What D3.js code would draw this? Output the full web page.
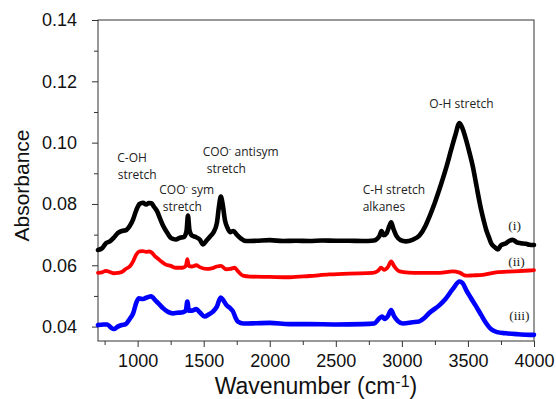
<!DOCTYPE html>
<html>
<head>
<meta charset="utf-8">
<title>FTIR spectra</title>
<script src="https://cdnjs.cloudflare.com/ajax/libs/d3/7.8.5/d3.min.js"></script>
<style>
    body { margin: 0; background: white; }
    .tick text { font-family: "Liberation Sans", Arial, sans-serif; font-size: 18px; fill: #111; }
    .axis path, .axis line { stroke: #333; }
    .axis-title { font-family: "Liberation Sans", Arial, sans-serif; fill: #111; }
    .note { font-family: "Open Sans", "Noto Sans", sans-serif; font-size: 12px; fill: #222; }
    .tag { font-family: "Liberation Serif", "Times New Roman", serif; font-size: 13.5px; fill: #222; }
</style>
</head>
<body>
<div id="chart"></div>
<script>
    // spectra: [wavenumber, absorbance]
    const spectrumI = [
        [700, 0.0650], [730, 0.0655], [760, 0.0672], [790, 0.0678], [820, 0.0690], [850, 0.0705],
        [880, 0.0712], [910, 0.0714], [940, 0.0728], [965, 0.0749], [990, 0.0780], [1015, 0.0800],
        [1040, 0.0804], [1065, 0.0798], [1085, 0.0803], [1105, 0.0802], [1125, 0.0790], [1145, 0.0778],
        [1170, 0.0752], [1195, 0.0727], [1225, 0.0705], [1255, 0.0688], [1290, 0.0684], [1320, 0.0690],
        [1350, 0.0692], [1370, 0.0712], [1381, 0.0762], [1392, 0.0715], [1410, 0.0697], [1440, 0.0692],
        [1470, 0.0684], [1495, 0.0668], [1520, 0.0680], [1550, 0.0695], [1575, 0.0708], [1600, 0.0738],
        [1615, 0.0790], [1630, 0.0824], [1645, 0.0795], [1660, 0.0749], [1680, 0.0722], [1700, 0.0708],
        [1725, 0.0712], [1750, 0.0700], [1780, 0.0688], [1820, 0.0679], [1900, 0.0680], [2000, 0.0682],
        [2100, 0.0679], [2200, 0.0680], [2300, 0.0679], [2400, 0.0681], [2500, 0.0680], [2600, 0.0680],
        [2700, 0.0679], [2790, 0.0681], [2830, 0.0695], [2846, 0.0712], [2862, 0.0698], [2885, 0.0705],
        [2905, 0.0728], [2919, 0.0740], [2935, 0.0720], [2960, 0.0695], [2990, 0.0682], [3030, 0.0678],
        [3080, 0.0683], [3133, 0.0697], [3180, 0.0730], [3209, 0.0759], [3250, 0.0805], [3297, 0.0865],
        [3340, 0.0925], [3373, 0.0977], [3405, 0.1025], [3436, 0.1064], [3460, 0.1045], [3486, 0.1009],
        [3510, 0.0970], [3537, 0.0922], [3560, 0.0870], [3575, 0.0835], [3600, 0.0781], [3620, 0.0745],
        [3638, 0.0716], [3660, 0.0690], [3676, 0.0672], [3700, 0.0660], [3726, 0.0652], [3750, 0.0665],
        [3789, 0.0672], [3815, 0.0680], [3839, 0.0683], [3870, 0.0675], [3900, 0.0672], [3940, 0.0670],
        [3965, 0.0667], [4000, 0.0666]
    ];

    const spectrumII = [
        [700, 0.0575], [730, 0.0577], [760, 0.0582], [790, 0.0578], [820, 0.0574], [850, 0.0575],
        [880, 0.0578], [910, 0.0588], [940, 0.0596], [965, 0.0612], [990, 0.0635], [1015, 0.0645],
        [1040, 0.0646], [1065, 0.0644], [1090, 0.0645], [1110, 0.0640], [1130, 0.0630], [1150, 0.0623],
        [1180, 0.0612], [1210, 0.0603], [1250, 0.0598], [1290, 0.0592], [1340, 0.0592], [1365, 0.0598],
        [1376, 0.0620], [1388, 0.0598], [1410, 0.0596], [1444, 0.0600], [1470, 0.0594], [1520, 0.0588],
        [1560, 0.0590], [1600, 0.0596], [1630, 0.0598], [1671, 0.0587], [1700, 0.0588], [1734, 0.0592],
        [1760, 0.0580], [1797, 0.0566], [1850, 0.0563], [2000, 0.0562], [2150, 0.0561], [2300, 0.0565],
        [2450, 0.0570], [2600, 0.0573], [2780, 0.0575], [2820, 0.0582], [2843, 0.0592], [2865, 0.0585],
        [2895, 0.0595], [2919, 0.0613], [2940, 0.0598], [2982, 0.0580], [3050, 0.0576], [3133, 0.0575],
        [3285, 0.0575], [3386, 0.0580], [3436, 0.0576], [3486, 0.0566], [3537, 0.0567], [3613, 0.0569],
        [3713, 0.0577], [3850, 0.0580], [3965, 0.0583], [4000, 0.0584]
    ];

    const spectrumIII = [
        [700, 0.0405], [740, 0.0407], [770, 0.0407], [800, 0.0396], [820, 0.0392], [850, 0.0400],
        [880, 0.0405], [910, 0.0408], [940, 0.0425], [965, 0.0442], [990, 0.0478], [1010, 0.0492],
        [1040, 0.0490], [1070, 0.0495], [1104, 0.0499], [1125, 0.0490], [1142, 0.0482], [1170, 0.0470],
        [1192, 0.0460], [1230, 0.0448], [1267, 0.0443], [1300, 0.0445], [1343, 0.0447], [1365, 0.0452],
        [1376, 0.0482], [1388, 0.0452], [1410, 0.0452], [1444, 0.0457], [1470, 0.0447], [1507, 0.0433],
        [1540, 0.0440], [1570, 0.0449], [1600, 0.0465], [1628, 0.0495], [1650, 0.0485], [1671, 0.0471],
        [1700, 0.0460], [1721, 0.0450], [1740, 0.0430], [1759, 0.0416], [1800, 0.0410], [1900, 0.0411],
        [2000, 0.0412], [2150, 0.0408], [2300, 0.0408], [2500, 0.0407], [2700, 0.0408], [2790, 0.0410],
        [2830, 0.0427], [2850, 0.0433], [2870, 0.0425], [2895, 0.0435], [2919, 0.0454], [2940, 0.0435],
        [2970, 0.0418], [3008, 0.0410], [3080, 0.0414], [3133, 0.0417], [3170, 0.0428], [3209, 0.0445],
        [3285, 0.0470], [3330, 0.0490], [3386, 0.0523], [3436, 0.0547], [3460, 0.0542], [3486, 0.0520],
        [3520, 0.0495], [3562, 0.0466], [3600, 0.0438], [3638, 0.0411], [3676, 0.0391], [3720, 0.0382],
        [3789, 0.0378], [3880, 0.0375], [3965, 0.0373], [4000, 0.0373]
    ];

    const seriesColors = ["#000000", "#ff0000", "#0000ff"];

    const xTicks = [1000, 1500, 2000, 2500, 3000, 3500, 4000];
    const xMinorTicks = [750, 1250, 1750, 2250, 2750, 3250, 3750];
    const yTicks = [0.04, 0.06, 0.08, 0.10, 0.12, 0.14];
    const yMinorTicks = [0.05, 0.07, 0.09, 0.11, 0.13];

    // band labels, anchored in data units: [text, superscript, rest, wavenumber, absorbance]
    const bandNotes = [
        ["C-OH", "", "", 846, 0.0937],
        ["stretch", "", "", 849, 0.0881],
        ["COO", "-", " sym", 1164, 0.0832],
        ["stretch", "", "", 1190, 0.0778],
        ["COO", "-", " antisym", 1492, 0.0956],
        ["stretch", "", "", 1523, 0.0902],
        ["C-H stretch", "", "", 2703, 0.0834],
        ["alkanes", "", "", 2703, 0.0778],
        ["O-H stretch", "", "", 3208, 0.1112]
    ];
    const seriesTags = [["(i)", 3805, 0.0715], ["(ii)", 3805, 0.0599], ["(iii)", 3812, 0.0421]];

    const width = 556, height = 399;
    const margin = { top: 20, right: 534, bottom: 341, left: 98 };

    const svg = d3.select("#chart").append("svg")
        .attr("width", width)
        .attr("height", height);

    const x = d3.scaleLinear().domain([700, 4000]).range([margin.left, margin.right]);
    const y = d3.scaleLinear().domain([0.0353, 0.14]).range([margin.bottom, margin.top]);

    // frame
    svg.append("rect")
        .attr("x", margin.left).attr("y", margin.top)
        .attr("width", margin.right - margin.left).attr("height", margin.bottom - margin.top)
        .attr("fill", "none").attr("stroke", "#333");

    // minor ticks first, no labels
    svg.append("g").attr("class", "axis")
        .attr("transform", `translate(0,${margin.bottom})`)
        .call(d3.axisBottom(x).tickValues(xMinorTicks).tickSize(4).tickFormat(""))
        .select(".domain").remove();
    svg.append("g").attr("class", "axis")
        .attr("transform", `translate(${margin.left},0)`)
        .call(d3.axisLeft(y).tickValues(yMinorTicks).tickSize(4).tickFormat(""))
        .select(".domain").remove();

    svg.append("g").attr("class", "axis")
        .attr("transform", `translate(0,${margin.bottom})`)
        .call(d3.axisBottom(x).tickValues(xTicks).tickSize(6).tickPadding(7).tickFormat(d3.format("d")))
        .select(".domain").remove();
    svg.append("g").attr("class", "axis")
        .attr("transform", `translate(${margin.left},0)`)
        .call(d3.axisLeft(y).tickValues(yTicks).tickSize(6).tickPadding(15).tickFormat(d3.format(".2f")))
        .select(".domain").remove();

    const line = d3.line()
        .x(d => x(d[0]))
        .y(d => y(d[1]))
        .curve(d3.curveMonotoneX);

    const plot = svg.append("g");
    [spectrumIII, spectrumII, spectrumI].forEach((s, i) => {
        plot.append("path")
            .datum(s)
            .attr("d", line)
            .attr("fill", "none")
            .attr("stroke", seriesColors[2 - i])
            .attr("stroke-width", i === 1 ? 3.8 : 4.6)
            .attr("stroke-linejoin", "round")
            .attr("stroke-linecap", "round");
    });

    bandNotes.forEach(n => {
        const t = svg.append("text")
            .attr("class", "note")
            .attr("x", x(n[3]))
            .attr("y", y(n[4]));
        t.append("tspan").text(n[0]);
        if (n[1]) {
            t.append("tspan").text(n[1]).attr("font-size", "8px").attr("dy", -5);
            t.append("tspan").text(n[2]).attr("dy", 5);
        }
    });

    seriesTags.forEach(tg => {
        svg.append("text")
            .attr("class", "tag")
            .attr("x", x(tg[1]))
            .attr("y", y(tg[2]))
            .text(tg[0]);
    });

    // axis titles
    svg.append("text")
        .attr("class", "axis-title")
        .attr("transform", `translate(29,${(margin.top + margin.bottom) / 2 + 5}) rotate(-90)`)
        .attr("text-anchor", "middle")
        .style("font-size", "21px")
        .text("Absorbance");

    const xt = svg.append("text")
        .attr("class", "axis-title")
        .attr("x", 316)
        .attr("y", 394)
        .attr("text-anchor", "middle")
        .style("font-size", "23px");
    xt.append("tspan").text("Wavenumber (cm");
    xt.append("tspan").text("-1").style("font-size", "16px").attr("dy", -7);
    xt.append("tspan").text(")").attr("dy", 7);
</script>
</body>
</html>
